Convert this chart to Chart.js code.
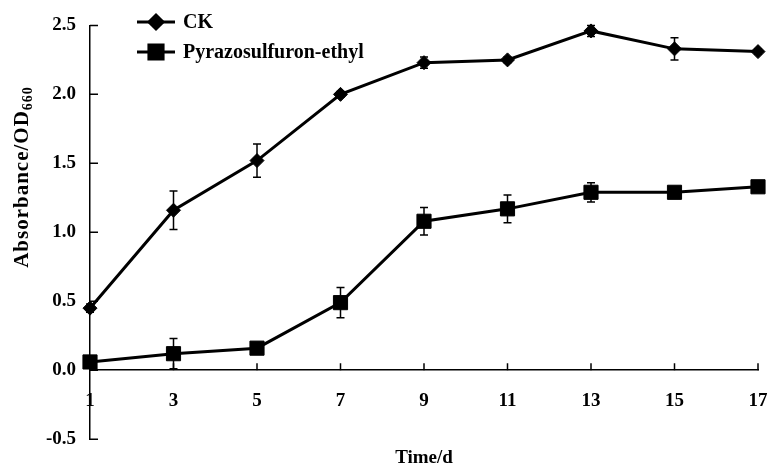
<!DOCTYPE html>
<html lang="en">
<head>
    <meta charset="utf-8" />
    <title>Absorbance over time</title>
    <script src="https://cdn.jsdelivr.net/npm/chart.js"></script>
    <style>
        body { margin: 0; background: #fff; }
        #wrap { width: 769px; height: 469px; position: relative; }
    </style>
</head>
<body>
    <div id="wrap"><canvas id="growthChart"></canvas></div>

    <script>
        // values
        const days = [1, 3, 5, 7, 9, 11, 13, 15, 17];
        const ckMean = [0.45, 1.16, 1.52, 2.00, 2.23, 2.25, 2.46, 2.33, 2.31];
        const ckErr = [0.03, 0.14, 0.12, 0.02, 0.04, 0.02, 0.04, 0.08, 0.02];
        const pyrMean = [0.06, 0.12, 0.16, 0.49, 1.08, 1.17, 1.29, 1.29, 1.33];
        const pyrErr = [0.02, 0.11, 0.02, 0.11, 0.10, 0.10, 0.07, 0.02, 0.02];
        const yTicks = [-0.5, 0.0, 0.5, 1.0, 1.5, 2.0, 2.5];

        const SERIF = '"Liberation Serif", "Times New Roman", serif';
        Chart.defaults.font.family = SERIF;
        Chart.defaults.color = '#000';

        const toPoints = (vals) => days.map((d, i) => ({ x: d, y: vals[i] }));

        // error bars, inward ticks, legend and y title
        const extras = {
            id: 'extras',
            beforeDatasetsDraw(chart) {
                const { ctx, scales: { x, y } } = chart;
                ctx.save();
                ctx.strokeStyle = '#000';
                ctx.lineWidth = 1.5;
                chart.data.datasets.forEach(ds => {
                    ds.data.forEach((p, i) => {
                        const px = x.getPixelForValue(p.x);
                        const top = y.getPixelForValue(p.y + ds.errors[i]);
                        const bot = y.getPixelForValue(p.y - ds.errors[i]);
                        ctx.beginPath();
                        ctx.moveTo(px, top); ctx.lineTo(px, bot);
                        ctx.moveTo(px - 4, top); ctx.lineTo(px + 4, top);
                        ctx.moveTo(px - 4, bot); ctx.lineTo(px + 4, bot);
                        ctx.stroke();
                    });
                });
                ctx.restore();
            },
            afterDraw(chart) {
                const { ctx, scales: { x, y } } = chart;
                ctx.save();
                ctx.strokeStyle = '#000';
                ctx.lineWidth = 1.5;
                // inward ticks
                const y0 = y.getPixelForValue(0);
                ctx.beginPath();
                days.forEach(d => {
                    const px = x.getPixelForValue(d);
                    ctx.moveTo(px, y0); ctx.lineTo(px, y0 - 7);
                });
                yTicks.forEach(v => {
                    const py = y.getPixelForValue(v);
                    ctx.moveTo(x.left, py); ctx.lineTo(x.left + 8, py);
                });
                ctx.stroke();

                // legend
                ctx.font = 'bold 20px ' + SERIF;
                ctx.textBaseline = 'middle';
                ctx.fillStyle = '#000';
                chart.data.datasets.forEach((ds, i) => {
                    const ly = 22 + i * 30;
                    ctx.lineWidth = 3;
                    ctx.beginPath();
                    ctx.moveTo(137, ly); ctx.lineTo(175, ly);
                    ctx.stroke();
                    Chart.helpers.drawPoint(ctx, {
                        pointStyle: ds.pointStyle, radius: ds.pointRadius, borderWidth: 1
                    }, 156, ly);
                    ctx.fill();
                    ctx.fillText(ds.label, 183, ly + 1);
                });

                // y axis title with subscript
                ctx.translate(23, 177);
                ctx.rotate(-Math.PI / 2);
                ctx.letterSpacing = '1px';
                ctx.font = 'bold 21px ' + SERIF;
                const main = 'Absorbance/OD';
                const w1 = ctx.measureText(main).width;
                ctx.font = 'bold 14px ' + SERIF;
                const w2 = ctx.measureText('660').width;
                const start = -(w1 + w2) / 2;
                ctx.textAlign = 'left';
                ctx.font = 'bold 21px ' + SERIF;
                ctx.fillText(main, start, 0);
                ctx.font = 'bold 14px ' + SERIF;
                ctx.fillText('660', start + w1, 5);
                ctx.restore();
            }
        };

        new Chart(document.getElementById('growthChart'), {
            type: 'line',
            data: {
                datasets: [{
                    label: 'CK',
                    data: toPoints(ckMean),
                    errors: ckErr,
                    borderColor: '#000',
                    backgroundColor: '#000',
                    borderWidth: 3,
                    pointStyle: 'rectRot',
                    pointRadius: 7,
                    pointBorderWidth: 1,
                    tension: 0,
                    clip: false
                }, {
                    label: 'Pyrazosulfuron-ethyl',
                    data: toPoints(pyrMean),
                    errors: pyrErr,
                    borderColor: '#000',
                    backgroundColor: '#000',
                    borderWidth: 3,
                    pointStyle: 'rect',
                    pointRadius: 10,
                    pointBorderWidth: 1,
                    tension: 0,
                    clip: false
                }]
            },
            options: {
                responsive: true,
                maintainAspectRatio: false,
                animation: false,
                layout: { padding: { left: 0, right: 10, top: 21, bottom: 0 } },
                plugins: {
                    legend: { display: false },
                    tooltip: { enabled: false },
                    title: {
                        display: true,
                        text: 'Time/d',
                        position: 'bottom',
                        fullSize: false,
                        font: { size: 19, weight: 'bold' },
                        padding: { top: 7, bottom: 0 }
                    }
                },
                scales: {
                    x: {
                        type: 'linear',
                        position: { y: 0 },
                        min: 1,
                        max: 17,
                        grid: { display: false, drawTicks: false },
                        border: { display: true, color: '#000', width: 1.5 },
                        afterFit: s => { s.paddingLeft = 0; s.paddingRight = 0; },
                        ticks: {
                            stepSize: 2,
                            padding: 19,
                            font: { size: 19, weight: 'bold' },
                            maxRotation: 0
                        }
                    },
                    y: {
                        min: -0.5,
                        max: 2.5,
                        grid: { display: false, drawTicks: false },
                        border: { display: true, color: '#000', width: 1.5 },
                        afterFit: s => { s.width = 90; },
                        ticks: {
                            stepSize: 0.5,
                            padding: 14,
                            font: { size: 19, weight: 'bold' },
                            callback: v => v.toFixed(1)
                        }
                    }
                }
            },
            plugins: [extras]
        });
    </script>
</body>
</html>
